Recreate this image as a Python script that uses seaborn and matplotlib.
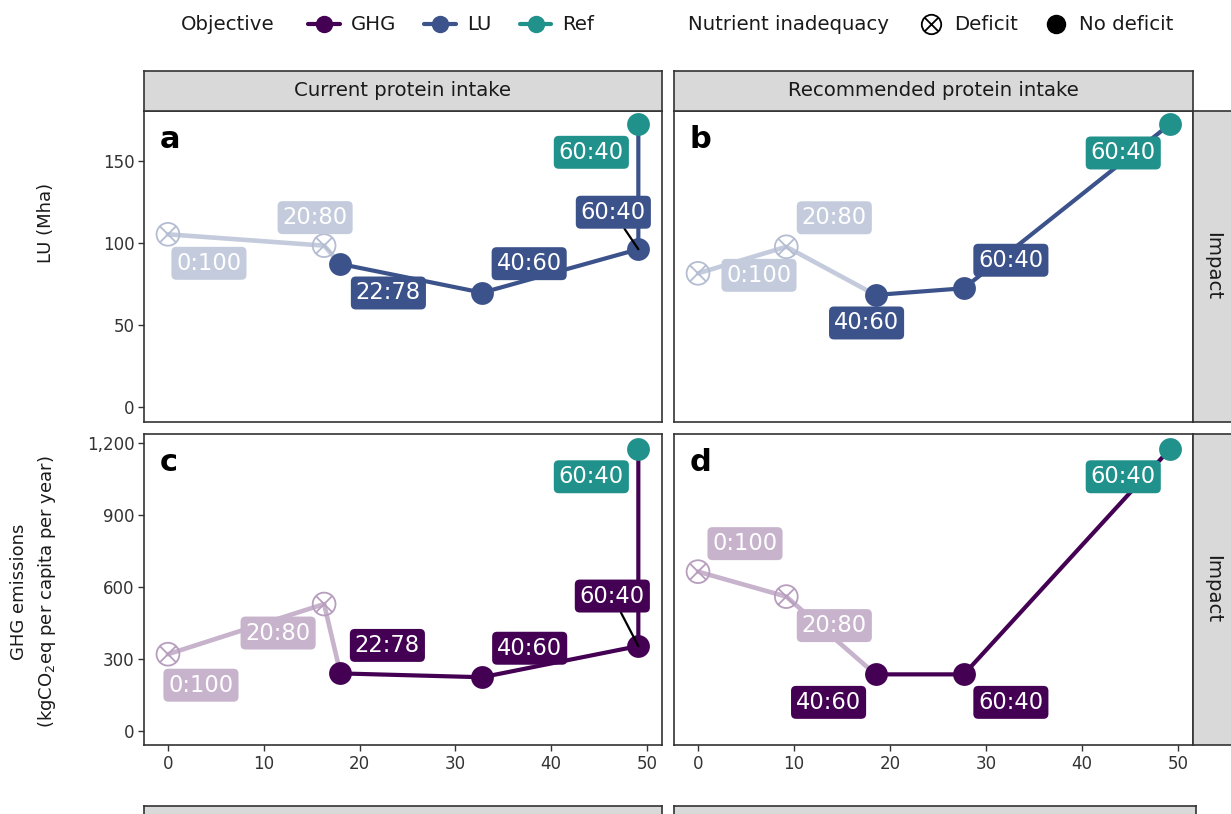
import numpy as np
import pandas as pd
import matplotlib
matplotlib.use("Agg")
import matplotlib.pyplot as plt
from matplotlib.path import Path
from matplotlib.markers import MarkerStyle
from matplotlib.lines import Line2D
import seaborn as sns

# ---------------- data ----------------
x_current = [0, 16.3, 18.0, 32.8, 49.1]
labels_current = ["0:100", "20:80", "22:78", "40:60", "60:40"]
deficit_current = [True, True, False, False, False]
lu_current = [105.3, 98.4, 87.2, 69.7, 96.2]
ghg_current = [320, 529, 240, 224, 354]

x_recommended = [0, 9.2, 18.5, 27.7]
labels_recommended = ["0:100", "20:80", "40:60", "60:40"]
deficit_recommended = [True, True, False, False]
lu_recommended = [81.5, 97.7, 68.3, 72.4]
ghg_recommended = [664, 560, 236, 236]

ref_x = [49.1, 49.2]          # current, recommended
ref_label = "60:40"
ref_lu = [172.4, 172.6]
ref_ghg = [1176, 1176]

col_titles = ["Current protein intake", "Recommended protein intake"]
row_title = "Impact"
lu_ticks = [0, 50, 100, 150]
ghg_ticks = [0, 300, 600, 900, 1200]
ghg_ticklabels = ["0", "300", "600", "900", "1,200"]
x_ticks = [0, 10, 20, 30, 40, 50]

# ---------------- style / layout ----------------
GHG_C = "#440154"
LU_C = "#3B528B"
REF_C = "#21918C"


def blend(c, a):
    r = np.array(matplotlib.colors.to_rgb(c))
    return tuple(a * r + (1 - a) * 1.0)


# label offsets in pixels (dx, dy up) per panel, in point order then ref
offsets = {
    "a": [(41, -29), (-9, 28), (48, -29), (47, 29), (-25, 37), (-47, -28)],
    "b": [(61, -2), (48, 29), (-9, -28), (47, 28), (-47, -29)],
    "c": [(33, -31), (-46, -29), (47, 28), (47.5, 29), (-26, 50), (-47, -28)],
    "d": [(47, 28), (48, -29), (-47, -28), (47, -28), (-47, -28)],
}
leaders = {("a", 4), ("c", 4)}

sns.set_style("white")
plt.rcParams["font.family"] = ["DejaVu Sans"]
plt.rcParams["mathtext.fontset"] = "dejavusans"

W, H = 1231, 814
fig = plt.figure(figsize=(W / 100, H / 100), dpi=100)


def px_axes(x0, y0, x1, y1):
    return fig.add_axes([x0 / W, 1 - y1 / H, (x1 - x0) / W, (y1 - y0) / H])


col_x = [(144, 662), (674, 1193)]
row_y = [(110.7, 421.7), (434, 745)]
EDGE = "#333333"
TXT = "#1a1a1a"
LBL_FS = 16.3
LBL_BOX = "round,pad=0.22,rounding_size=0.22"

# circle-with-cross marker
k = np.sqrt(0.5)
cross = Path([(-k, -k), (k, k), (-k, k), (k, -k)],
             [Path.MOVETO, Path.LINETO, Path.MOVETO, Path.LINETO])
circx = Path.make_compound_path(Path.unit_circle(), cross)

panels = [
    ("a", 0, 0, x_current, lu_current, deficit_current, labels_current, ref_x[0], ref_lu[0], LU_C),
    ("b", 0, 1, x_recommended, lu_recommended, deficit_recommended, labels_recommended, ref_x[1], ref_lu[1], LU_C),
    ("c", 1, 0, x_current, ghg_current, deficit_current, labels_current, ref_x[0], ref_ghg[0], GHG_C),
    ("d", 1, 1, x_recommended, ghg_recommended, deficit_recommended, labels_recommended, ref_x[1], ref_ghg[1], GHG_C),
]

for letter, r, c, xs, ys, defs, labs, rx, ry, dark in panels:
    ax = px_axes(col_x[c][0], row_y[r][0], col_x[c][1], row_y[r][1])
    light = blend(dark, 0.3)
    mlight = blend(dark, 0.38)
    df = pd.DataFrame({"x": xs, "y": ys, "deficit": defs, "label": labs})
    first_nd = defs.index(False)
    d_idx = [i for i, d in enumerate(defs) if d]
    light_path = df.iloc[d_idx + [first_nd]]
    dark_path = pd.concat([df[~df.deficit][["x", "y"]],
                           pd.DataFrame({"x": [rx], "y": [ry]})], ignore_index=True)
    sns.lineplot(data=light_path, x="x", y="y", ax=ax, color=light, lw=3.3,
                 sort=False, estimator=None, zorder=2)
    sns.lineplot(data=dark_path, x="x", y="y", ax=ax, color=dark, lw=3.0,
                 sort=False, estimator=None, zorder=3)
    sns.scatterplot(data=df[df.deficit], x="x", y="y", ax=ax, marker=MarkerStyle(circx),
                    s=270, facecolor="none", edgecolor=mlight, linewidth=1.3, zorder=4)
    sns.scatterplot(data=df[~df.deficit], x="x", y="y", ax=ax, marker="o",
                    s=270, color=dark, edgecolor=dark, linewidth=0, zorder=5)
    sns.scatterplot(x=[rx], y=[ry], ax=ax, marker="o", s=270, color=REF_C,
                    edgecolor=REF_C, linewidth=0, zorder=5)

    offs = offsets[letter]
    for i, row in df.iterrows():
        fc = light if row["deficit"] else dark
        kw = {}
        if (letter, i) in leaders:
            kw["arrowprops"] = dict(arrowstyle="-", color="black", lw=1.6,
                                    shrinkA=0, shrinkB=0)
        ax.annotate(row["label"], (row["x"], row["y"]), xytext=offs[i],
                    textcoords="offset pixels", ha="center", va="center",
                    color="white", fontsize=LBL_FS, zorder=6, annotation_clip=False,
                    bbox=dict(boxstyle=LBL_BOX, fc=fc, ec="none"),
                    **kw)
    ax.annotate(ref_label, (rx, ry), xytext=offs[-1], textcoords="offset pixels",
                ha="center", va="center", color="white", fontsize=LBL_FS, zorder=6,
                annotation_clip=False,
                bbox=dict(boxstyle=LBL_BOX, fc=REF_C, ec="none"))

    ax.set_xlim(-2.5, 51.57)
    if r == 0:
        ax.set_ylim(-9, 180.7)
        ax.set_yticks(lu_ticks)
        ax.set_yticklabels([str(t) for t in lu_ticks])
        ax.set_xticks([])
    else:
        ax.set_ylim(-58.3, 1237.5)
        ax.set_yticks(ghg_ticks)
        ax.set_yticklabels(ghg_ticklabels)
        ax.set_xticks(x_ticks)
        ax.set_xticklabels([str(t) for t in x_ticks])
    if c == 1:
        ax.set_yticks([])
    ax.set_xlabel("")
    ax.set_ylabel("")
    for sp in ax.spines.values():
        sp.set_color(EDGE)
        sp.set_linewidth(1.2)
    ax.tick_params(length=4, width=1.0, color=EDGE, labelsize=12,
                   labelcolor="#333333", pad=3, left=(c == 0), bottom=(r == 1))
    ax.annotate(letter, xy=(0, 1), xycoords="axes fraction", xytext=(16, -37),
                textcoords="offset pixels", fontsize=22, fontweight="heavy",
                ha="left", va="baseline", color="black")


def strip(x0, y0, x1, y1, text, rot=0):
    s = px_axes(x0, y0, x1, y1)
    s.set_facecolor("#d9d9d9")
    s.set_xticks([])
    s.set_yticks([])
    for sp in s.spines.values():
        sp.set_color(EDGE)
        sp.set_linewidth(1.2)
    if text:
        s.text(0.5, 0.5, text, rotation=rot, ha="center", va="center",
               transform=s.transAxes, fontsize=14.2, color=TXT)


strip(144, 70.7, 662, 110.7, col_titles[0])
strip(674, 70.7, 1193, 110.7, col_titles[1])
strip(1193, 110.7, 1233, 421.7, row_title, rot=-90)
strip(1193, 434, 1233, 745, row_title, rot=-90)
strip(144, 806, 662, 846, "")
strip(674, 806, 1196, 846, "")

# axis titles
fig.text(46 / W, 1 - 223 / H, "LU (Mha)", rotation=90, ha="center", va="center",
         fontsize=13, color=TXT)
fig.text(34 / W, 1 - 592 / H, "GHG emissions\n(kgCO$_2$eq per capita per year)",
         rotation=90, ha="center", va="center", multialignment="center",
         fontsize=13, color=TXT, linespacing=1.5)

# legend
LEG_FS = 14.2
fig.text(181 / W, 1 - 25 / H, "Objective", ha="left", va="center", fontsize=LEG_FS, color=TXT)
hs = [Line2D([], [], color=col, lw=3, marker="o", markersize=11.5)
      for col in (GHG_C, LU_C, REF_C)]
fig.legend(handles=hs, labels=["GHG", "LU", "Ref"], loc="center left",
           bbox_to_anchor=(308 / W, 1 - 25 / H), ncol=3, frameon=False, fontsize=LEG_FS,
           handlelength=1.6, handletextpad=0.55, columnspacing=1.45, borderpad=0,
           borderaxespad=0, labelcolor=TXT)
fig.text(688 / W, 1 - 25 / H, "Nutrient inadequacy", ha="left", va="center",
         fontsize=LEG_FS, color=TXT)
h_def = Line2D([], [], ls="none", marker=MarkerStyle(circx), markersize=14,
               markerfacecolor="none", markeredgecolor="black", markeredgewidth=1.3)
h_nd = Line2D([], [], ls="none", marker="o", markersize=13, color="black")
fig.legend(handles=[h_def, h_nd], labels=["Deficit", "No deficit"], loc="center left",
           bbox_to_anchor=(915 / W, 1 - 25 / H), ncol=2, frameon=False, fontsize=LEG_FS,
           handlelength=1.6, handletextpad=0.4, columnspacing=1.1, borderpad=0,
           borderaxespad=0, labelcolor=TXT)

fig.savefig("out.png", dpi=100)
